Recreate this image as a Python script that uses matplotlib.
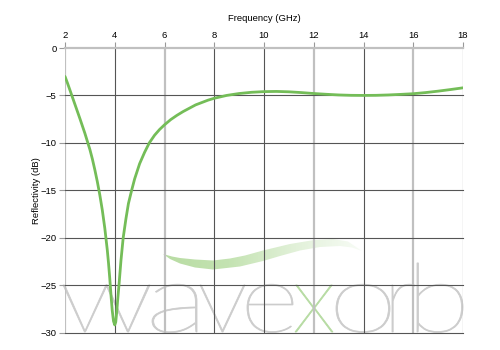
#!/usr/bin/env python3
"""Reflectivity vs frequency chart with wavexorb watermark."""
import numpy as np
import matplotlib
matplotlib.use("Agg")
import matplotlib.pyplot as plt
from matplotlib.patches import Polygon, PathPatch
from matplotlib.textpath import TextPath
from matplotlib.font_manager import FontProperties
from matplotlib.transforms import Affine2D, IdentityTransform
from matplotlib.colors import LinearSegmentedColormap

# frequency (GHz) and reflectivity (dB)
freq = [2.0, 2.1, 2.2, 2.4, 2.6, 2.8, 3.0, 3.1, 3.2, 3.3, 3.4, 3.5, 3.6,
        3.7, 3.75, 3.8, 3.85, 3.9, 3.95, 4.0, 4.04, 4.08, 4.12, 4.17, 4.25,
        4.34, 4.45, 4.55, 4.68, 4.8, 5.0, 5.2, 5.39, 5.6, 5.8, 6.0, 6.25,
        6.5, 6.75, 7.0, 7.25, 7.5, 7.75, 8.0, 8.5, 9.0, 9.5, 10.0, 10.5,
        11.0, 11.5, 12.0, 12.5, 13.0, 13.5, 14.0, 14.5, 15.0, 15.5, 16.0,
        16.5, 17.0, 17.5, 18.0]
refl = [-3.0, -3.7, -4.45, -5.95, -7.45, -9.0, -10.7, -11.7, -12.85, -14.1,
        -15.5, -17.1, -19.0, -21.3, -22.7, -24.3, -26.1, -27.7, -28.8, -29.2,
        -28.9, -27.8, -26.5, -25.0, -22.4, -20.0, -18.0, -16.4, -15.0, -13.8,
        -12.2, -11.0, -10.0, -9.2, -8.6, -8.1, -7.55, -7.1, -6.7, -6.35,
        -6.0, -5.75, -5.5, -5.3, -5.0, -4.8, -4.67, -4.6, -4.58, -4.62,
        -4.7, -4.8, -4.88, -4.95, -4.99, -5.0, -4.99, -4.95, -4.89, -4.82,
        -4.7, -4.55, -4.38, -4.2]

x_ticks = [2, 4, 6, 8, 10, 12, 14, 16, 18]
y_ticks = [0, -5, -10, -15, -20, -25, -30]

W, H = 500, 350
FS = 6.8
fig = plt.figure(figsize=(5, 3.5), dpi=100)
ax = fig.add_axes([65 / W, 1 - 332.5 / H, 398 / W, 284.5 / H])
ax.set_facecolor("none")

# ---- watermark: swoosh (pixel coords, y from top) ----
upper = [(163, 254), (172, 256.5), (180, 258), (195, 259.5), (213, 260.5),
         (230, 258.5), (245, 255.5), (263, 250.5), (290, 244), (313, 240.2),
         (333, 239), (348, 241.5), (362, 251)]
lower = [(352, 247.5), (340, 246), (320, 247), (300, 250.5), (280, 256),
         (263, 261), (240, 266.5), (213, 269.5), (195, 267.5), (180, 263.5),
         (170, 259)]
disp = IdentityTransform()
swoosh = Polygon([(x, H - y) for x, y in upper + lower], closed=True,
                 transform=disp, facecolor="none", edgecolor="none")
ax.add_patch(swoosh)
sw_cmap = LinearSegmentedColormap.from_list(
    "sw", ["#b8dca3", "#c4e3b2", "#e2f1d9", "#f8fcf6"])
img = ax.imshow(np.linspace(0, 1, 256)[None, :], cmap=sw_cmap, aspect="auto",
                extent=[2 + (163 - 65) / 398 * 16, 2 + (362 - 65) / 398 * 16, -30, 0],
                zorder=1, interpolation="bilinear")
img.set_clip_path(swoosh)

# ---- watermark: "wavexorb" letters, each fitted to its box in pixels ----
fp = FontProperties(family="Lato", weight="light")
letters = ["w", "a", "v", "e", "x", "o", "r", "b"]
lefts = [63, 152, 200, 247, 295, 336, 392, 417]
rights = [150, 197, 245, 293, 333, 390, 415, 463]
colors = ["#cccccc"] * 4 + ["#b6dba2"] + ["#cccccc"] * 3
x_ref = TextPath((0, 0), "x", size=1, prop=fp).get_extents()
sy = 47 / x_ref.height
baseline = H - 332
for ch, l, r, c in zip(letters, lefts, rights, colors):
    tp = TextPath((0, 0), ch, size=1, prop=fp)
    ext = tp.get_extents()
    sx = (r - l) / ext.width
    tr = Affine2D().translate(-ext.x0, 0).scale(sx, sy).translate(l, baseline)
    ax.add_patch(PathPatch(tr.transform_path(tp), transform=disp, facecolor=c,
                           edgecolor=c, lw=0.6, zorder=1, clip_on=False))

ax.set_xlim(2, 18)
ax.set_ylim(-30, 0)

# grid (some lines render soft grey in the reference)
soft_x = {2, 6, 12, 16}
for xv in x_ticks:
    if xv in soft_x:
        ax.axvline(xv, color="#c0c0c0", lw=1.6, zorder=2)
    else:
        ax.axvline(xv, color="#555555", lw=0.8, zorder=2)
for yv in y_ticks:
    if yv == 0:
        ax.axhline(yv, color="#c0c0c0", lw=1.6, zorder=2, clip_on=False)
    else:
        ax.axhline(yv, color="#555555", lw=0.8, zorder=2, clip_on=False)

ax.plot(freq, refl, color="#74bd58", lw=2, zorder=3, solid_capstyle="round",
        solid_joinstyle="round")

for s in ax.spines.values():
    s.set_visible(False)
ax.set_xticks(x_ticks)
ax.set_yticks(y_ticks)
ax.xaxis.tick_top()
ax.xaxis.set_label_position("top")
ax.tick_params(axis="both", length=4, width=0.8, color="#999999", labelsize=FS,
               pad=2)
for lab in ax.get_xticklabels() + ax.get_yticklabels():
    lab.set_family("Liberation Sans")
ax.set_xlabel("Frequency (GHz)", fontsize=FS, family="Liberation Sans", labelpad=7)
ax.set_ylabel("Reflectivity (dB)", fontsize=FS, family="Liberation Sans", labelpad=0)

fig.savefig("out.png", dpi=100)
